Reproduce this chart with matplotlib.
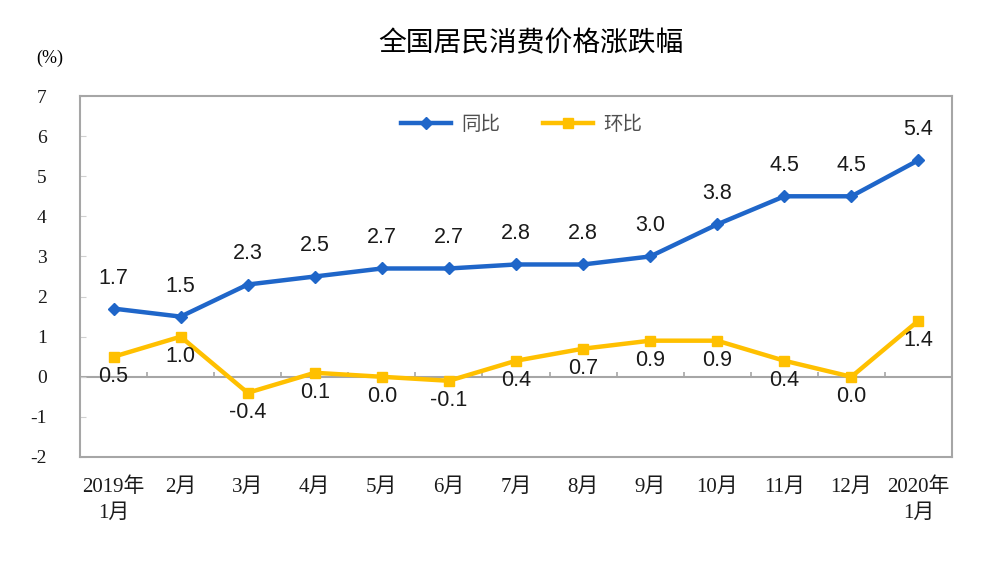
import numpy as np
import matplotlib
matplotlib.use('Agg')
import matplotlib.pyplot as plt

plt.rcParams['axes.unicode_minus'] = False

months = ['2019年\n1月', '2月', '3月', '4月', '5月', '6月', '7月',
          '8月', '9月', '10月', '11月', '12月', '2020年\n1月']
yoy = [1.7, 1.5, 2.3, 2.5, 2.7, 2.7, 2.8, 2.8, 3.0, 3.8, 4.5, 4.5, 5.4]
mom = [0.5, 1.0, -0.4, 0.1, 0.0, -0.1, 0.4, 0.7, 0.9, 0.9, 0.4, 0.0, 1.4]

serif = ['Liberation Serif', 'Noto Sans CJK SC']
cjk = ['Noto Sans CJK SC', 'DejaVu Sans']
blue = '#1f66c9'
yellow = '#ffc000'
grey = '#a6a6a6'

fig = plt.figure(figsize=(10, 5.76), dpi=100)
ax = fig.add_axes([0.08, 0.2066, 0.872, 0.6267])

x = np.arange(len(months))
ax.plot(x, yoy, color=blue, lw=3.2, marker='D', ms=6.5, label='同比')
ax.plot(x, mom, color=yellow, lw=3.2, marker='s', ms=6.5, label='环比')

# zero line with category separators
ax.axhline(0, color=grey, lw=1.5, zorder=1)
ax.vlines(np.arange(0.5, len(months) - 1, 1), 0, 0.12, color=grey, lw=1.2, zorder=1)

for i in x:
    ax.annotate(f'{yoy[i]:.1f}', (i, yoy[i]), xytext=(0, 22), textcoords='offset points',
                ha='center', va='center', fontsize=15.5, family='Liberation Sans',
                color='#1a1a1a')
    ax.annotate(f'{mom[i]:.1f}', (i, mom[i]), xytext=(0, -14), textcoords='offset points',
                ha='center', va='center', fontsize=15.5, family='Liberation Sans',
                color='#1a1a1a')

ax.set_xlim(-0.5, len(months) - 0.5)
ax.set_ylim(-2, 7)
ax.set_yticks(range(-2, 8))
ax.set_xticks(x)
ax.set_xticklabels(months, family=serif, fontsize=15, linespacing=1.45)
for lab in ax.get_yticklabels():
    lab.set_family(serif)
    lab.set_fontsize(14)
ax.tick_params(axis='x', length=0, pad=15, colors='#1a1a1a')
ax.tick_params(axis='y', direction='in', length=4, color='#d0d0d0', pad=24,
               labelcolor='#1a1a1a')
for s in ax.spines.values():
    s.set_color(grey)
    s.set_linewidth(1.5)

leg = ax.legend(loc='upper center', bbox_to_anchor=(0.506, 1.0), ncol=2, frameon=False,
                prop={'family': cjk, 'size': 14}, handlelength=2.6, columnspacing=2.2,
                handletextpad=0.5)
for t in leg.get_texts():
    t.set_color('#505050')

fig.text(0.531, 0.925, '全国居民消费价格涨跌幅', ha='center', va='center',
         family=cjk, fontsize=20)
fig.text(0.05, 0.898, '(%)', ha='center', va='center', family=serif, fontsize=13)

fig.savefig('out.png', dpi=100)
